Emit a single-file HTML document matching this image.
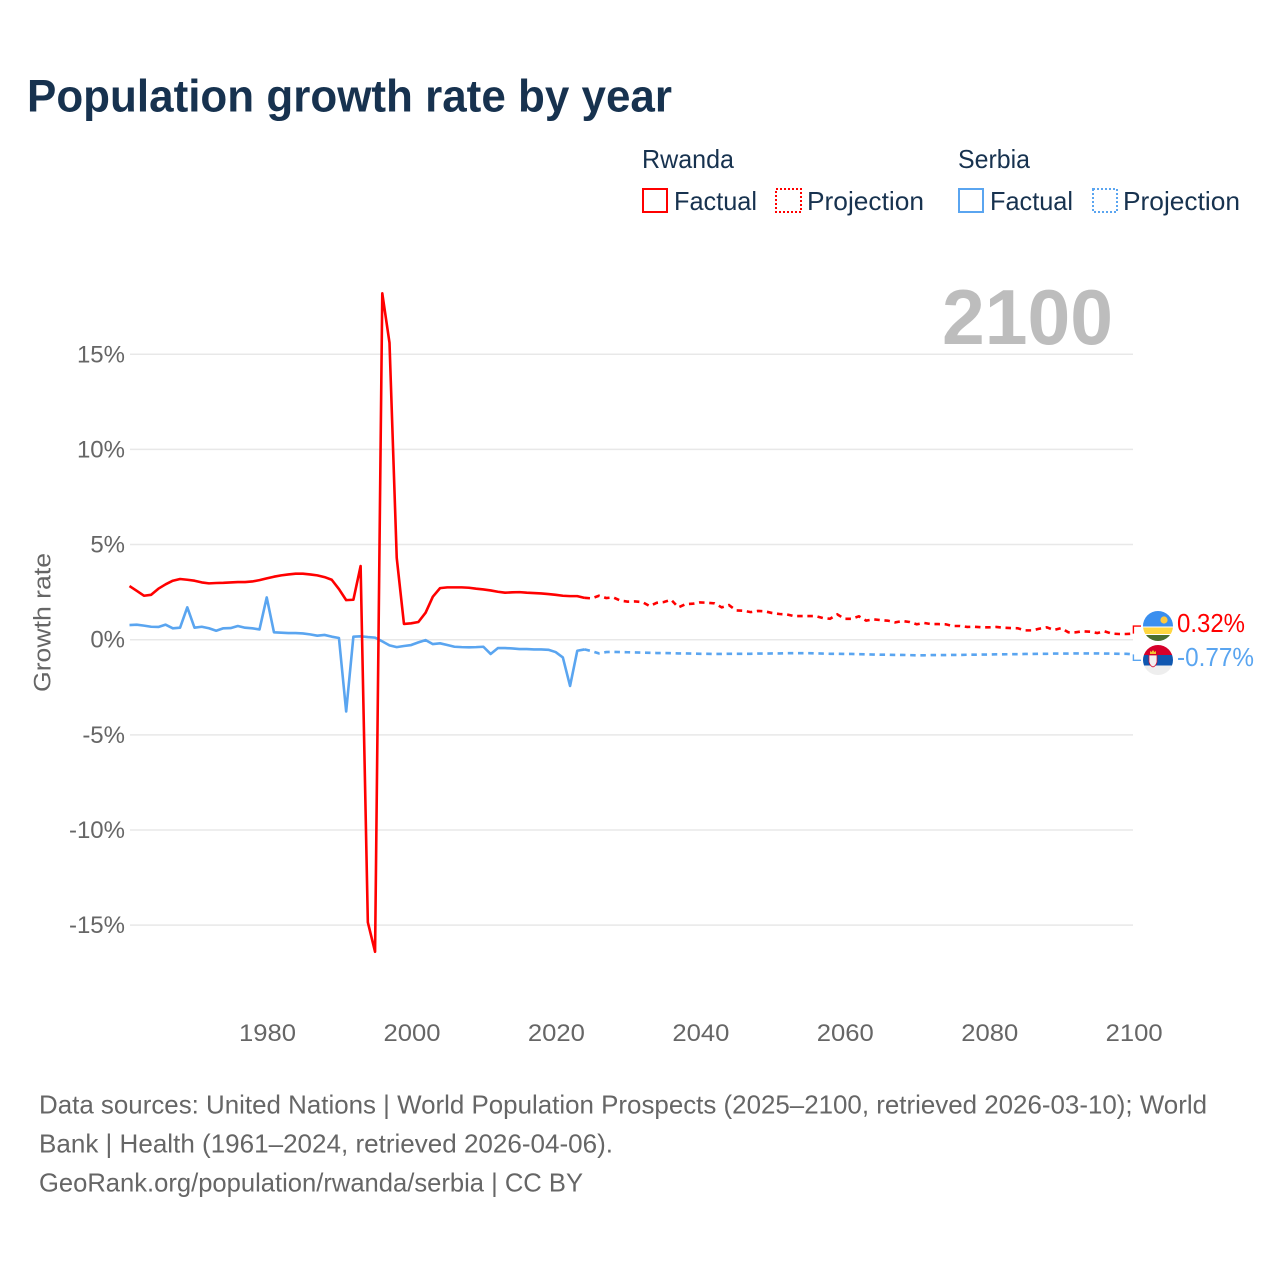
<!DOCTYPE html>
<html lang="en">
<head>
<meta charset="utf-8">
<title>Population growth rate by year</title>
<style>
html,body{margin:0;padding:0;background:#fff;width:1280px;height:1280px;overflow:hidden}
svg{display:block}
text{font-family:"Liberation Sans",sans-serif}
</style>
</head>
<body>
<svg id="chart" xmlns="http://www.w3.org/2000/svg" width="1280" height="1280" viewBox="0 0 1280 1280">
  <defs>
    <clipPath id="clip-rw"><circle cx="1158" cy="626" r="15"/></clipPath>
    <clipPath id="clip-rs"><circle cx="1158" cy="660" r="15"/></clipPath>
  </defs>
  <rect x="0" y="0" width="1280" height="1280" fill="#ffffff"/>
  <text x="27" y="111.500" font-size="45" font-weight="700" fill="#17324f" textLength="645" lengthAdjust="spacingAndGlyphs">Population growth rate by year</text>

  <g font-size="26" fill="#17324f">
    <text x="642" y="168" textLength="92" lengthAdjust="spacingAndGlyphs">Rwanda</text>
    <text x="958" y="168" textLength="72" lengthAdjust="spacingAndGlyphs">Serbia</text>
    <rect x="643" y="189" width="24" height="23" fill="none" stroke="#ff0000" stroke-width="2"/>
    <text x="674" y="210" textLength="83" lengthAdjust="spacingAndGlyphs">Factual</text>
    <rect x="776" y="189" width="25" height="23" fill="none" stroke="#ff0000" stroke-width="2" stroke-dasharray="2 2"/>
    <text x="807" y="210" textLength="117" lengthAdjust="spacingAndGlyphs">Projection</text>
    <rect x="959" y="189" width="24" height="23" fill="none" stroke="#5aa5f0" stroke-width="2"/>
    <text x="990" y="210" textLength="83" lengthAdjust="spacingAndGlyphs">Factual</text>
    <rect x="1093" y="189" width="24" height="23" fill="none" stroke="#5aa5f0" stroke-width="2" stroke-dasharray="2 2"/>
    <text x="1123" y="210" textLength="117" lengthAdjust="spacingAndGlyphs">Projection</text>
  </g>

  <g id="grid"></g>
  <text x="942" y="344" font-size="78" font-weight="700" fill="#bdbdbd" textLength="171" lengthAdjust="spacingAndGlyphs">2100</text>
  <g id="y-ticks" font-size="24" fill="#666666" text-anchor="end"></g>
  <g id="x-ticks" font-size="24" fill="#666666" text-anchor="middle"></g>
  <text transform="translate(50.5 692) rotate(-90)" font-size="24" fill="#666666" textLength="139" lengthAdjust="spacingAndGlyphs">Growth rate</text>
  <g id="series"></g>

  <g clip-path="url(#clip-rw)">
    <rect x="1143" y="611" width="30" height="15.5" fill="#3a8fef"/>
    <rect x="1143" y="627.5" width="30" height="6.5" fill="#ffd740"/>
    <rect x="1143" y="635" width="30" height="6" fill="#4b6e2e"/>
    <circle cx="1164" cy="620" r="3.6" fill="#ffc93c"/>
  </g>
  <g clip-path="url(#clip-rs)">
    <rect x="1143" y="645" width="30" height="10" fill="#d6002a"/>
    <rect x="1143" y="655" width="30" height="10.500" fill="#0f57b0"/>
    <rect x="1143" y="665.5" width="30" height="10" fill="#eeeeee"/>
    <path d="M1149 655h8v7q-1 4-4 5q-3-1-4-5z" fill="#f4f0f0" stroke="#d6002a" stroke-width="0.7"/>
    <path d="M1150 654v-3l1.500 1 1.500-2 1.500 2 1.500-1v3z" fill="#f2c230"/>
  </g>

  <g font-size="26" fill="#666666">
    <text x="39" y="1113.500" textLength="1168" lengthAdjust="spacingAndGlyphs">Data sources: United Nations | World Population Prospects (2025–2100, retrieved 2026-03-10); World</text>
    <text x="39" y="1152.500" textLength="574" lengthAdjust="spacingAndGlyphs">Bank | Health (1961–2024, retrieved 2026-04-06).</text>
    <text x="39" y="1191.500" textLength="544" lengthAdjust="spacingAndGlyphs">GeoRank.org/population/rwanda/serbia | CC BY</text>
  </g>
</svg>
<script>
const yTickValues = [15, 10, 5, 0, -5, -10, -15];
const xTickYears = [1980, 2000, 2020, 2040, 2060, 2080, 2100];
const factualStartYear = 1961;
const projectionStartYear = 2024;
const rwandaFactual = [2.82,2.57,2.31,2.36,2.68,2.91,3.10,3.19,3.15,3.10,3.01,2.96,2.98,2.99,3.01,3.03,3.03,3.06,3.13,3.22,3.31,3.38,3.43,3.47,3.47,3.43,3.38,3.29,3.15,2.66,2.08,2.10,3.87,-14.85,-16.4,18.2,15.6,4.3,0.83,0.86,0.93,1.42,2.26,2.71,2.75,2.75,2.75,2.73,2.68,2.64,2.59,2.52,2.47,2.49,2.50,2.47,2.45,2.43,2.40,2.36,2.31,2.29,2.29,2.20];
const serbiaFactual = [0.77,0.79,0.74,0.68,0.67,0.79,0.60,0.63,1.70,0.63,0.68,0.60,0.47,0.60,0.61,0.72,0.63,0.60,0.54,2.22,0.39,0.37,0.35,0.35,0.33,0.28,0.21,0.25,0.16,0.09,-3.77,0.16,0.18,0.14,0.11,-0.09,-0.30,-0.39,-0.33,-0.28,-0.14,-0.02,-0.23,-0.19,-0.28,-0.37,-0.39,-0.40,-0.39,-0.37,-0.75,-0.44,-0.44,-0.46,-0.49,-0.49,-0.51,-0.51,-0.53,-0.65,-0.93,-2.43,-0.58,-0.51];
const rwandaProjection = [2.20,2.17,2.31,2.19,2.22,2.05,2.00,2.01,1.98,1.77,1.94,1.98,2.10,1.70,1.87,1.89,1.96,1.94,1.91,1.70,1.82,1.54,1.52,1.45,1.51,1.49,1.40,1.35,1.33,1.24,1.24,1.24,1.24,1.14,1.10,1.33,1.10,1.10,1.23,1.00,1.07,1.03,1.00,0.91,0.98,0.93,0.81,0.88,0.82,0.82,0.81,0.72,0.72,0.67,0.68,0.65,0.65,0.67,0.63,0.61,0.60,0.49,0.49,0.58,0.65,0.51,0.61,0.39,0.39,0.44,0.42,0.35,0.44,0.32,0.30,0.30,0.32];
const serbiaProjection = [-0.51,-0.60,-0.72,-0.65,-0.64,-0.65,-0.66,-0.67,-0.68,-0.69,-0.70,-0.70,-0.71,-0.72,-0.72,-0.73,-0.74,-0.74,-0.75,-0.75,-0.74,-0.74,-0.74,-0.74,-0.73,-0.73,-0.72,-0.72,-0.71,-0.71,-0.71,-0.71,-0.72,-0.73,-0.74,-0.74,-0.75,-0.75,-0.76,-0.77,-0.78,-0.79,-0.79,-0.80,-0.80,-0.81,-0.82,-0.82,-0.81,-0.81,-0.81,-0.80,-0.80,-0.79,-0.79,-0.78,-0.78,-0.77,-0.77,-0.76,-0.76,-0.75,-0.75,-0.74,-0.74,-0.73,-0.73,-0.73,-0.72,-0.72,-0.72,-0.72,-0.73,-0.73,-0.74,-0.74,-0.77];

const NS = 'http://www.w3.org/2000/svg';
const RED = '#ff0000';
const BLUE = '#5aa5f0';
function xScale(year) { return 129.5 + (year - 1961) * 7.2223; }
function yScale(value) { return 639.7 - value * 19.03; }
function make(tag, attrs, parent) {
  const el = document.createElementNS(NS, tag);
  for (const k in attrs) el.setAttribute(k, attrs[k]);
  parent.appendChild(el);
  return el;
}
function linePath(values, startYear) {
  return values.map(function (v, i) {
    return (i ? 'L' : 'M') + xScale(startYear + i).toFixed(2) + ' ' + yScale(v).toFixed(2);
  }).join('');
}
const grid = document.getElementById('grid');
const yTicks = document.getElementById('y-ticks');
const xTicks = document.getElementById('x-ticks');
const series = document.getElementById('series');

yTickValues.forEach(function (v) {
  const line = make('line', {x1: 130, x2: 1133, y1: yScale(v), y2: yScale(v), stroke: '#e8e8e8', 'stroke-width': 1.5}, grid);
  
  
  const label = make('text', {x: 125, y: yScale(v) + 8}, yTicks);
  
  
  label.textContent = v + '%';
});
xTickYears.forEach(function (year) {
  const label = make('text', {x: xScale(year) + 0.8, y: 1041, textLength: 57, lengthAdjust: 'spacingAndGlyphs'}, xTicks);
  
  
  label.textContent = String(year);
});

function drawSolid(values, color, name) {
  const p = make('path', {d: linePath(values, factualStartYear), fill: 'none', stroke: color, 'stroke-width': 2.6, 'stroke-linejoin': 'round'}, series);
  
  
}
function drawDashed(values, color, name) {
  const p = make('path', {d: linePath(values, projectionStartYear), fill: 'none', stroke: color, 'stroke-width': 2.6, 'stroke-dasharray': '5.5 4.7'}, series);
  
  
}
drawSolid(serbiaFactual, BLUE, 'serbia-factual-line');
drawDashed(serbiaProjection, BLUE, 'serbia-projection-line');
drawSolid(rwandaFactual, RED, 'rwanda-factual-line');
drawDashed(rwandaProjection, RED, 'rwanda-projection-line');

const lastRw = rwandaProjection[rwandaProjection.length - 1];
const lastRs = serbiaProjection[serbiaProjection.length - 1];
const yRw = yScale(lastRw);
const yRs = yScale(lastRs);
const connRw = make('path', {d: 'M' + xScale(2100) + ' ' + yRw + 'V' + (yRw - 7.5) + 'H1141', fill: 'none', stroke: RED, 'stroke-width': 1.4}, series);


const connRs = make('path', {d: 'M' + xScale(2100) + ' ' + yRs + 'V' + (yRs + 6) + 'H1141', fill: 'none', stroke: BLUE, 'stroke-width': 1.4}, series);


const endRw = make('text', {x: 1177, y: yRw - 1.5, 'font-size': 26, fill: RED, textLength: 68, lengthAdjust: 'spacingAndGlyphs'}, series);


endRw.textContent = lastRw.toFixed(2) + '%';
const endRs = make('text', {x: 1177, y: yRs + 11.5, 'font-size': 26, fill: BLUE, textLength: 77, lengthAdjust: 'spacingAndGlyphs'}, series);


endRs.textContent = lastRs.toFixed(2) + '%';
</script>
</body>
</html>
